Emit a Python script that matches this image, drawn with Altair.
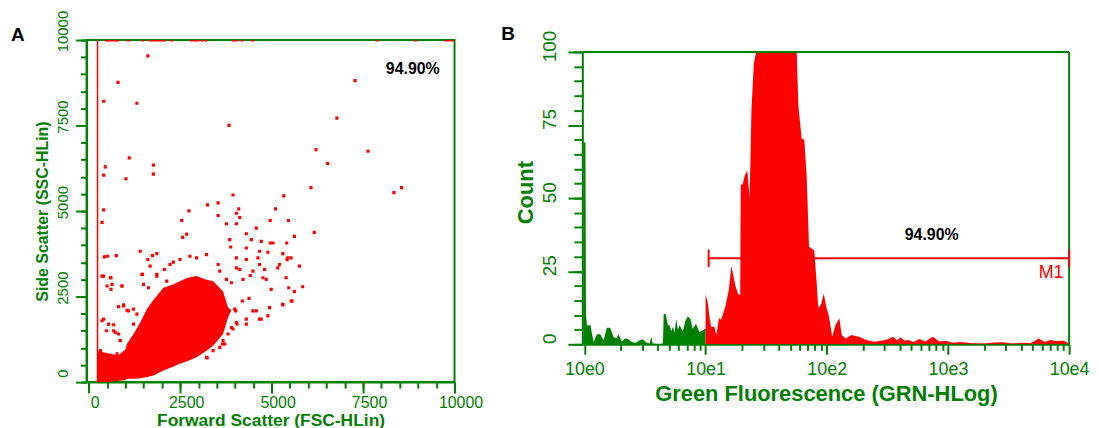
import altair as alt
import pandas as pd

GREEN = "#008000"
RED = "#ff0000"
FONT = "Liberation Sans"

# ---------------- Panel A: FSC vs SSC dot plot ----------------
# dense core of the population (lower / upper edge of the solid red blob)
cluster_fsc = [240, 500, 800, 1000, 1044, 1250, 1406, 1600, 1768, 2040, 2300, 2494, 2700,
               2948, 3200, 3400, 3672, 3808, 3900]
cluster_ssc_lo = [0, 0, 30, 60, 98, 100, 110, 150, 195, 340, 450, 534, 620,
                  726, 900, 1066, 1405, 1888, 2100]
cluster_ssc_hi = [900, 850, 780, 950, 1115, 1450, 1742, 2150, 2400, 2760, 2850, 2950, 3050,
                  3100, 3000, 2950, 2650, 2178, 2100]

# individual events outside the dense core
scatter_fsc = [1615, 800, 408, 1316, 3835, 7281, 6784, 6212, 7635, 6528, 1107, 1768, 454, 1768,
               408, 1017, 6076, 8342, 8552, 5331, 3944, 408, 363, 5105, 2739, 3248, 3536, 4099,
               3536, 2540, 4036, 4127, 5459, 4961, 6166, 3764, 4036, 2676, 4580, 4308, 4716,
               4961, 5034, 5413, 5622, 4444, 3854, 3881, 4308, 4670, 4897, 4625, 5304, 5422,
               5531, 5168, 5758, 4127, 4806, 4761, 4417, 4036, 4217, 5395, 5848, 5467, 5622,
               5304, 5558, 4897, 4716, 4580, 4943, 4308, 4054, 4199, 4381, 4018, 3656, 3237,
               2567, 2312, 2067, 1860, 1615, 1406, 1741, 1860, 753, 517, 426, 363, 609, 499,
               609, 908, 1469, 1497, 816, 1044, 952, 408, 680, 1224, 481, 725, 1316, 862,
               408, 590, 636, 908, 364, 544, 680, 816, 952, 1224, 1088, 1452, 1678, 1632,
               1860, 2132, 2222, 2494, 2766, 2948, 3220, 3536, 3582, 3764, 3900, 4036, 4308,
               4488, 4670, 4852, 4988, 5304, 5532, 5214, 5440, 3990, 4308, 4488, 4670, 4036,
               3900, 3220, 3672, 3718, 318, 454, 772, 1044, 3400, 3582, 3808, 3944]
scatter_ssc = [9537, 8761, 8210, 8152, 7504, 8811, 7716, 6796, 6748, 6389, 6554, 6342, 6293, 6081,
               6052, 5945, 5683, 5538, 5683, 5442, 5470, 5035, 4667, 5064, 5006, 5180, 5238, 5064,
               4870, 4725, 4937, 4812, 4725, 4725, 4376, 4629, 4629, 4327, 4501, 4337, 4115,
               4066, 4066, 4066, 4260, 4163, 4163, 3949, 3920, 3824, 3795, 3630, 3756, 3582,
               3630, 3340, 3388, 3291, 3291, 3049, 3117, 3340, 3001, 3049, 2788, 2759, 2643,
               2256, 2372, 1937, 1840, 2082, 2178, 1696, 1696, 2372, 2449, 2082, 1115, 708,
               4231, 3505, 3291, 3756, 3582, 3824, 3698, 3148, 3698, 3679, 3660, 3099, 3049, 2808,
               2711, 2808, 3148, 2855, 2207, 2101, 2256, 1841, 1677, 1696, 1501, 1453, 1985, 1212,
               3098, 3049, 2857, 2808, 1792, 1696, 1501, 1406, 2227, 2132, 2082, 3148, 3389, 2759,
               3098, 2953, 3438, 3583, 3679, 3630, 3728, 3438, 3244, 3002, 2904, 3630, 3583,
               3244, 3438, 3002, 2712, 2276, 2372, 3438, 3630, 2132, 1841, 2082, 1841, 1743,
               1597, 726, 1211, 1115, 920, 632, 824, 630, 920, 1016, 1405, 1551]

# events saturated at the top of the SSC range
saturated_fsc = [481, 560, 640, 720, 789, 1088, 1480, 1678, 1760, 1840, 1920, 2000, 2080, 2268,
                 2812, 2900, 2980, 3100, 3200, 3960, 4040, 4200, 4480, 7889, 8933, 9760, 9850, 9940]
SSC_MAX = 10000
gate_fsc = 240
pctA = {"fsc": 8858, "ssc": 9152, "label": "94.90%"}

# ---------------- Panel B: green fluorescence histogram ----------------
green_fl = [0.98, 1.0, 1.02, 1.03, 1.05, 1.12, 1.19, 1.27, 1.35, 1.44, 1.53, 1.63, 1.74, 1.83,
            1.91, 2.03, 2.17, 2.31, 2.45, 2.65, 2.87, 3.02, 3.25, 3.45, 3.57, 3.65, 3.81, 4.05,
            4.32, 4.45, 4.51, 4.68, 4.89, 5.05, 5.2, 5.37, 5.55, 5.73, 5.9, 6.1, 6.49, 6.8,
            7.13, 7.5, 7.83, 8.34, 8.88, 9.46, 9.88, 10.0]
green_count = [69, 69, 69, 10, 6.5, 6.5, 0.8, 3.4, 3.4, 1.4, 5.7, 5.7, 2.5, 2.0,
               3.4, 1.0, 2.0, 1.7, 0.8, 0.5, 1.4, 1.7, 0.5, 0.3, 2.7, 0.3, 0.2, 0,
               0, 0.5, 10.4, 10.4, 6.5, 6.5, 4.5, 5.9, 4.0, 8.7, 5.0, 6.5, 4.5, 8.0,
               9.5, 8.7, 5.3, 7.0, 4.2, 4.8, 5.3, 5.3]

red_fl = [10.0, 10.4, 10.8, 11.1, 11.8, 12.3, 12.9, 13.4, 14.0, 14.7, 15.6, 16.3, 16.9, 17.7,
          18.6, 19.3, 19.5, 20.3, 21.1, 22.1, 23.1, 23.9, 25.0, 26.1, 28, 32, 36, 40, 45, 50,
          55, 56.5, 58.3, 62.1, 65.3, 68.2, 71.4, 75.0, 78.9, 82.4, 85.1, 89.5, 94.4, 99.5,
          103.7, 111, 118, 127, 133, 143, 160, 184, 213, 246, 280, 305, 330, 352, 380, 407,
          440, 470, 520, 583, 650, 750, 850, 965, 1100, 1250, 1380, 1600, 1980, 2400, 2840,
          3400, 4070, 4800, 5620, 6270, 7000, 7760, 8970, 10000]
red_count = [17, 14.6, 9, 6, 6, 3.3, 9, 8.4, 10.7, 13.5, 19, 26.9, 23.7, 19.7,
             17, 17, 54.4, 55, 57.8, 59.5, 50, 80, 96, 110, 125, 140, 150, 150, 140, 125,
             108, 100, 81.6, 70.3, 70, 57.8, 33.4, 32.8, 32, 21.5, 12.4, 13.5, 17.4, 12.4,
             10, 2.6, 6.6, 8.9, 3.2, 2, 3.2, 2.6, 1.5, 0.9, 1.2, 1.5, 2.0, 2.6, 1.4, 2.3,
             1.2, 1.5, 0.8, 1.8, 1.0, 2.6, 1.0, 1.1, 0.5, 0.8, 0.6, 0.4, 0.3, 0.6, 0.7,
             0.3, 0.5, 0.4, 2.0, 0.8, 1.5, 1.1, 1.2, 0.3]

FL_MIN, FL_MAX = 0.97, 10000          # histogram x range
COUNT_MAX = 100                       # histogram y range (frame top)
m1 = {"start": 10.6, "end": 10000, "level": 29.4, "tick_lo": 26.4, "tick_hi": 32.4}
pctB = {"fl": 734, "count": 37.5, "label": "94.90%"}
m1_label = {"fl": 7100, "count": 24.4, "label": "M1"}

NBSP4 = "\u00a0" * 4

# ================= build panel A =================
xA = alt.Scale(domain=[-60, 10000], nice=False, zero=False)
yA = alt.Scale(domain=[0, 10000], nice=False, zero=False)

axA_x = alt.Axis(values=[0, 2500, 5000, 7500, 10000], orient="bottom", tickSize=11, format="d",
                 labelExpr=f"datum.value == 0 ? '{NBSP4}0' : datum.label",
                 labelFlush=False, labelFontSize=16, labelPadding=2, labelOffset=6,
                 titleFontSize=17.5, titlePadding=1)
axA_xm = alt.Axis(values=list(range(0, 10001, 500)), orient="bottom", tickSize=6,
                  labels=False, domain=False)
axA_y = alt.Axis(values=[0, 2500, 5000, 7500, 10000], orient="left", tickSize=11, format="d",
                 labelFlush=False, labelFontSize=15, labelAngle=270, labelAlign="center",
                 labelBaseline="bottom", labelPadding=5, labelOffset=-9, titleFontSize=16,
                 titlePadding=5)
axA_ym = alt.Axis(values=list(range(0, 10001, 500)), orient="left", tickSize=6,
                  labels=False, domain=False)

dfA_core = pd.DataFrame({"fsc": cluster_fsc, "lo": cluster_ssc_lo, "hi": cluster_ssc_hi})
dfA_pts = pd.DataFrame({"fsc": scatter_fsc + saturated_fsc,
                        "ssc": scatter_ssc + [SSC_MAX] * len(saturated_fsc)})

core = alt.Chart(dfA_core).mark_area(color=RED, clip=True).encode(
    x=alt.X("fsc:Q", scale=xA, axis=axA_x, title="Forward Scatter (FSC-HLin)"),
    y=alt.Y("lo:Q", scale=yA, axis=axA_y, title="Side Scatter (SSC-HLin)"),
    y2="hi:Q",
)
pts = alt.Chart(dfA_pts).mark_square(color=RED, size=10, opacity=1, clip=True).encode(
    x=alt.X("fsc:Q", scale=xA, axis=axA_xm, title=None),
    y=alt.Y("ssc:Q", scale=yA, axis=axA_ym, title=None),
)
gate = alt.Chart(pd.DataFrame({"fsc": [gate_fsc], "lo": [0], "hi": [SSC_MAX]})).mark_rule(
    color=RED, strokeWidth=1.5).encode(
    x=alt.X("fsc:Q", scale=xA, axis=None),
    y=alt.Y("lo:Q", scale=yA, axis=None),
    y2="hi:Q",
)
txtA = alt.Chart(pd.DataFrame([pctA])).mark_text(
    fontSize=16, fontWeight="bold", color="black", baseline="middle").encode(
    x=alt.X("fsc:Q", scale=xA, axis=None),
    y=alt.Y("ssc:Q", scale=yA, axis=None),
    text="label:N",
)

panelA = alt.layer(core, pts, gate, txtA).resolve_axis(x="independent", y="independent").properties(
    width=370, height=344,
    title=alt.TitleParams("A", anchor="start", frame="group", fontSize=19, fontWeight="bold",
                          color="black", dx=-76, offset=-35),
)

# ================= build panel B =================
# plot area reaches 4 % above the frame so that the frame sits lower than panel A's
xB = alt.Scale(type="log", domain=[FL_MIN, FL_MAX], nice=False)
yB = alt.Scale(domain=[0, 104.1], nice=False, zero=False)
minor_fl = [m * 10 ** k for k in range(4) for m in range(2, 10)]

axB_x = alt.Axis(values=[1, 10, 100, 1000, 10000], orient="bottom", tickSize=10,
                 labelExpr="'10e' + round(log(datum.value) / LN10)", labelFlush=False,
                 labelFontSize=18, labelPadding=6, titleFontSize=22, titlePadding=5)
axB_xm = alt.Axis(values=minor_fl, orient="bottom", tickSize=6, labels=False, domain=False)
axB_y = alt.Axis(values=[0, 25, 50, 75, 100], orient="left", tickSize=15, domain=False,
                 labelFlush=False, labelFontSize=19, labelAngle=270, labelAlign="center",
                 labelBaseline="bottom", labelPadding=8, labelOffset=-6, titleFontSize=22,
                 titlePadding=4)
axB_ym = alt.Axis(values=list(range(0, 101, 5)), orient="left", tickSize=9,
                  labels=False, domain=False)

green_area = alt.Chart(pd.DataFrame({"fl": green_fl, "count": green_count})).mark_area(
    color=GREEN, clip=True).encode(
    x=alt.X("fl:Q", scale=xB, axis=axB_x, title="Green Fluorescence (GRN-HLog)"),
    y=alt.Y("count:Q", scale=yB, axis=axB_y, title="Count"),
)
red_area = alt.Chart(pd.DataFrame({"fl": red_fl, "count": red_count})).transform_calculate(
    shown=f"min(datum.count, {COUNT_MAX})"
).mark_area(color=RED, clip=True).encode(
    x=alt.X("fl:Q", scale=xB, axis=axB_xm, title=None),
    y=alt.Y("shown:Q", scale=yB, axis=axB_ym, title=None),
)
dfFrame = pd.DataFrame({"x0": [FL_MIN, FL_MIN, FL_MAX], "x1": [FL_MIN, FL_MAX, FL_MAX],
                        "y0": [0, COUNT_MAX, 0], "y1": [COUNT_MAX, COUNT_MAX, COUNT_MAX]})
frameB = alt.Chart(dfFrame).mark_rule(color=GREEN, strokeWidth=2).encode(
    x=alt.X("x0:Q", scale=xB, axis=None), x2="x1:Q",
    y=alt.Y("y0:Q", scale=yB, axis=None), y2="y1:Q",
)
dfM1 = pd.DataFrame([m1])
m1_line = alt.Chart(dfM1).mark_rule(color=RED, strokeWidth=2).encode(
    x=alt.X("start:Q", scale=xB, axis=None), x2="end:Q",
    y=alt.Y("level:Q", scale=yB, axis=None),
)
dfM1_ends = pd.DataFrame({"fl": [m1["start"], m1["end"]],
                          "lo": [m1["tick_lo"]] * 2, "hi": [m1["tick_hi"]] * 2})
m1_ends = alt.Chart(dfM1_ends).mark_rule(color=RED, strokeWidth=2).encode(
    x=alt.X("fl:Q", scale=xB, axis=None),
    y=alt.Y("lo:Q", scale=yB, axis=None), y2="hi:Q",
)
txtB = alt.Chart(pd.DataFrame([pctB])).mark_text(
    fontSize=16, fontWeight="bold", color="black", baseline="middle").encode(
    x=alt.X("fl:Q", scale=xB, axis=None),
    y=alt.Y("count:Q", scale=yB, axis=None),
    text="label:N",
)
txtM1 = alt.Chart(pd.DataFrame([m1_label])).mark_text(
    fontSize=18, color=RED, baseline="middle").encode(
    x=alt.X("fl:Q", scale=xB, axis=None),
    y=alt.Y("count:Q", scale=yB, axis=None),
    text="label:N",
)

panelB = alt.layer(green_area, red_area, frameB, m1_line, m1_ends, txtB, txtM1).resolve_axis(
    x="independent", y="independent").properties(
    width=489, height=306,
    view=alt.ViewBackground(stroke="transparent"),
    title=alt.TitleParams("B", anchor="start", frame="group", fontSize=19,
                          fontWeight="bold", color="black", dx=-82, offset=-14),
)

chart = alt.hconcat(panelA, panelB, spacing=16).properties(
    padding={"left": 2, "top": 0, "right": 0, "bottom": 0}
).configure(font=FONT).configure_view(
    stroke=GREEN, strokeWidth=2
).configure_axis(
    domainColor=GREEN, tickColor=GREEN, labelColor=GREEN, titleColor=GREEN,
    domainWidth=2, tickWidth=2, grid=False, titleFontWeight="bold",
    labelFont=FONT, titleFont=FONT,
).configure_title(font=FONT)

chart.save("out.html", embed_options={"renderer": "svg", "actions": False})
